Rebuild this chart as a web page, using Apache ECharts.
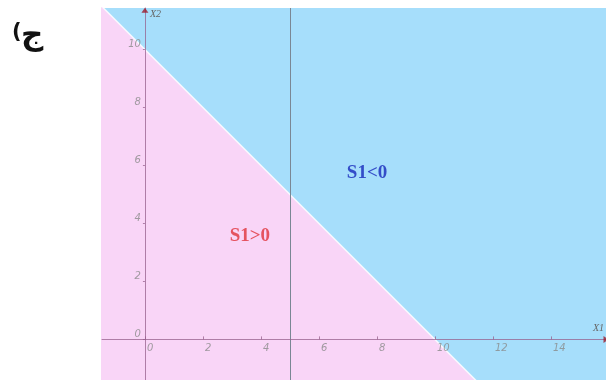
<!DOCTYPE html>
<html>
<head>
<meta charset="utf-8">
<script src="https://cdn.jsdelivr.net/npm/echarts@6/dist/echarts.min.js"></script>
<style>
  html, body { margin: 0; padding: 0; background: #fff; }
  #chart { width: 606px; height: 380px; }
</style>
</head>
<body>
<div id="chart"></div>
<script>
// Visible window of the (X1, X2) plane
const xRange = [-1.48, 15.9];
const yRange = [-1.4, 11.43];

// Tick labels along both axes
const xTicks = [0, 2, 4, 6, 8, 10, 12, 14];
const yTicks = [0, 2, 4, 6, 8, 10];

// Constraint boundary X1 + X2 = 10 (two end points beyond the window)
const boundary = [[-2, 12], [12, -2]];

// Vertical reference line X1 = 5
const refLineX = 5;

// Region labels: [x1, x2, text]
const regionLabels = [
  [3.62, 3.55, 'S1>0'],
  [7.66, 5.75, 'S1<0']
];

const pink = '#f9d5f7';
const blue = '#a6defb';
const axisColor = 'rgba(150, 95, 140, 0.75)';
const tickLabelStyle = { color: '#8a8a8a', fontSize: 10, fontStyle: 'italic', fontFamily: 'DejaVu Sans' };

const chart = echarts.init(document.getElementById('chart'), null, { renderer: 'canvas' });

chart.setOption({
  animation: false,
  backgroundColor: '#fff',
  grid: {
    left: 102, top: 8, width: 504, height: 372,
    outerBoundsMode: 'none', containLabel: false,
    show: true, backgroundColor: blue, borderWidth: 0
  },
  xAxis: {
    type: 'value', min: xRange[0], max: xRange[1], z: 10,
    axisLine: { onZero: true, lineStyle: { color: axisColor, width: 1 } },
    axisTick: { show: true, inside: true, length: 3, customValues: xTicks, lineStyle: { color: axisColor } },
    axisLabel: { show: false },
    splitLine: { show: false },
    name: 'X1', nameLocation: 'end', nameGap: -13,
    nameTextStyle: { color: '#666', fontSize: 10, fontStyle: 'italic', fontFamily: 'Liberation Serif',
      align: 'left', verticalAlign: 'bottom', padding: [0, 0, 6, 0] }
  },
  yAxis: {
    type: 'value', min: yRange[0], max: yRange[1], z: 10,
    axisLine: { onZero: true, lineStyle: { color: axisColor, width: 1 } },
    axisTick: { show: true, length: 2, customValues: yTicks, lineStyle: { color: axisColor } },
    axisLabel: { show: false },
    splitLine: { show: false },
    name: 'X2', nameLocation: 'end', nameGap: -1,
    nameTextStyle: { color: '#666', fontSize: 10, fontStyle: 'italic', fontFamily: 'Liberation Serif',
      align: 'left', verticalAlign: 'top', padding: [0, 0, 0, 5] }
  },
  series: [
    {
      // S1 > 0 half-plane, filled below the boundary
      type: 'line',
      data: boundary,
      symbol: 'none',
      clip: true,
      z: 1,
      lineStyle: { color: 'rgba(255,255,255,0.85)', width: 1.5 },
      areaStyle: { color: pink, opacity: 1, origin: 'start' },
      markLine: {
        silent: true, symbol: 'none', label: { show: false },
        lineStyle: { color: '#7a8794', width: 1, type: 'solid' },
        data: [{ xAxis: refLineX }]
      }
    },
    {
      // axis arrow heads
      type: 'scatter',
      symbol: 'triangle',
      symbolSize: [7, 5],
      itemStyle: { color: '#9c1c2c' },
      z: 12,
      data: [
        { value: [0, yRange[1] - 0.08] },
        { value: [xRange[1], 0], symbolRotate: -90 }
      ]
    },
    {
      // X1 tick labels, placed on the X1 axis (X2 = 0)
      type: 'scatter',
      symbolSize: 0,
      z: 12,
      data: xTicks.map(v => [v, 0]),
      label: {
        show: true, position: 'bottom', distance: 4, align: 'left', offset: [2, 0],
        formatter: p => String(p.value[0]), ...tickLabelStyle
      }
    },
    {
      // X2 tick labels, placed on the X2 axis (X1 = 0)
      type: 'scatter',
      symbolSize: 0,
      z: 12,
      data: yTicks.map(v => [0, v]),
      label: {
        show: true, position: 'left', distance: 4, verticalAlign: 'bottom',
        formatter: p => String(p.value[1]), ...tickLabelStyle
      }
    },
    {
      type: 'scatter',
      symbolSize: 0,
      z: 12,
      data: regionLabels.map(d => ({
        value: [d[0], d[1]],
        label: {
          show: true, formatter: d[2], position: 'inside',
          color: d[2] === 'S1>0' ? '#e0323a' : '#1628bc',
          fontSize: 19, fontWeight: 'bold', fontFamily: 'Liberation Serif'
        }
      }))
    }
  ],
  graphic: [
    {
      // item marker "ج)": the paren sits on the left, as in right-to-left text
      type: 'group', left: 12, top: 20,
      children: [
        { type: 'text', x: 0, y: 2, style: { text: '(', font: 'bold 21px "DejaVu Sans"', fill: '#111' } },
        { type: 'text', x: 9, y: 0, style: { text: 'ج', font: 'bold 31px "DejaVu Sans"', fill: '#111' } }
      ]
    }
  ]
});
</script>
</body>
</html>
